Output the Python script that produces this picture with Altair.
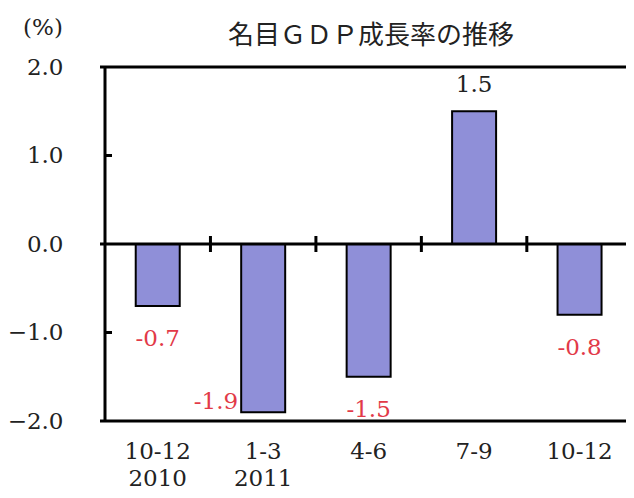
import altair as alt
import pandas as pd

quarters = ["10-12", "1-3", "4-6", "7-9", "10-12"]
years = ["2010", "2011", "", "", ""]
values = [-0.7, -1.9, -1.5, 1.5, -0.8]
label_side = ["below", "left", "below", "above", "below"]
y_ticks = [-2.0, -1.0, 0.0, 1.0, 2.0]
title_text = "名目ＧＤＰ成長率の推移"
unit_text = "(%)"

# plot area: band of 107.5 px per quarter, right part cut off by the window
BAND = 107.5
W, H = 526, 354
NUM_FONT = "DejaVu Serif"
CJK_FONT = "Noto Sans CJK JP"
FS = 23
LW = 3
BAR_FILL = "#8f8fd8"
RED = "#e23a48"
INK = "#222222"

df = pd.DataFrame({
    "pos": list(range(len(values))),
    "quarter": quarters,
    "year": years,
    "value": values,
    "label": [f"{v:.1f}" for v in values],
    "side": label_side,
})
bounds = pd.DataFrame({"b": [i + 0.5 for i in range(len(values) - 1)]})
inner_ticks = pd.DataFrame({"t": [t for t in y_ticks if t not in (0.0, 2.0, -2.0)]})
hlines = pd.DataFrame({"e": [min(y_ticks), 0.0, max(y_ticks)]})
one = pd.DataFrame({"title": [title_text], "unit": [unit_text]})

xs = alt.Scale(domain=[-0.5, -0.5 + W / BAND], nice=False, zero=False)
ys = alt.Scale(domain=[-2, 2], nice=False)

base = alt.Chart(df)

bars = base.mark_bar(size=44, fill=BAR_FILL, stroke="black", strokeWidth=2).encode(
    x=alt.X("pos:Q", scale=xs, axis=None),
    y=alt.Y("value:Q", scale=ys, title=None,
            axis=alt.Axis(values=y_ticks, format=".1f", ticks=False, domain=False, grid=False,
                          labelFont=NUM_FONT, labelFontSize=FS, labelColor=INK,
                          labelPadding=37, labelBaseline="middle")),
    y2=alt.datum(0),
)

h_lines = alt.Chart(hlines).mark_rule(color="black", strokeWidth=LW).encode(
    x=alt.value(0), x2=alt.value(W), y=alt.Y("e:Q", scale=ys)
)
left_edge = alt.Chart(one).mark_rule(color="black", strokeWidth=LW).encode(
    x=alt.datum(-0.5, scale=xs), y=alt.value(0), y2=alt.value(H)
)

zero_ticks = alt.Chart(bounds).mark_rule(color="black", strokeWidth=LW, yOffset=-8, y2Offset=8).encode(
    x=alt.X("b:Q", scale=xs), y=alt.datum(0, scale=ys), y2=alt.datum(0)
)

y_inner = alt.Chart(inner_ticks).mark_rule(color="black", strokeWidth=LW, x2Offset=7).encode(
    x=alt.datum(-0.5, scale=xs), x2=alt.datum(-0.5), y=alt.Y("t:Q", scale=ys)
)

lab_below = base.transform_filter(alt.datum.side == "below").mark_text(
    font=NUM_FONT, fontSize=FS, color=RED, baseline="middle", align="center", dy=33
).encode(x=alt.X("pos:Q", scale=xs), y=alt.Y("value:Q", scale=ys), text="label:N")

lab_above = base.transform_filter(alt.datum.side == "above").mark_text(
    font=NUM_FONT, fontSize=FS, color=INK, baseline="middle", align="center", dy=-26
).encode(x=alt.X("pos:Q", scale=xs), y=alt.Y("value:Q", scale=ys), text="label:N")

lab_left = base.transform_filter(alt.datum.side == "left").mark_text(
    font=NUM_FONT, fontSize=FS, color=RED, baseline="middle", align="right", dx=-25, dy=-10
).encode(x=alt.X("pos:Q", scale=xs), y=alt.Y("value:Q", scale=ys), text="label:N")

q_labels = base.mark_text(
    font=NUM_FONT, fontSize=FS, color=INK, baseline="middle", align="center"
).encode(x=alt.X("pos:Q", scale=xs), y=alt.value(H + 31), text="quarter:N")

yr_labels = base.mark_text(
    font=NUM_FONT, fontSize=FS, color=INK, baseline="middle", align="center"
).encode(x=alt.X("pos:Q", scale=xs), y=alt.value(H + 58), text="year:N")

title_mark = alt.Chart(one).mark_text(
    font=CJK_FONT, fontSize=26, color=INK, baseline="middle", align="center"
).encode(x=alt.value(271), y=alt.value(-31), text="title:N")

unit_mark = alt.Chart(one).mark_text(
    font=NUM_FONT, fontSize=FS, color=INK, baseline="middle", align="center"
).encode(x=alt.value(-57), y=alt.value(-39), text="unit:N")

chart = alt.layer(
    bars, h_lines, zero_ticks, y_inner, left_edge, lab_below, lab_above, lab_left,
    q_labels, yr_labels, title_mark, unit_mark
).properties(
    width=W, height=H,
    autosize=alt.AutoSizeParams(type="none"),
    padding={"left": 92, "top": 59, "right": 0, "bottom": 69},
    background="white",
).configure_view(strokeWidth=0)

chart.save("out.html", embed_options={"renderer": "svg", "actions": False})
